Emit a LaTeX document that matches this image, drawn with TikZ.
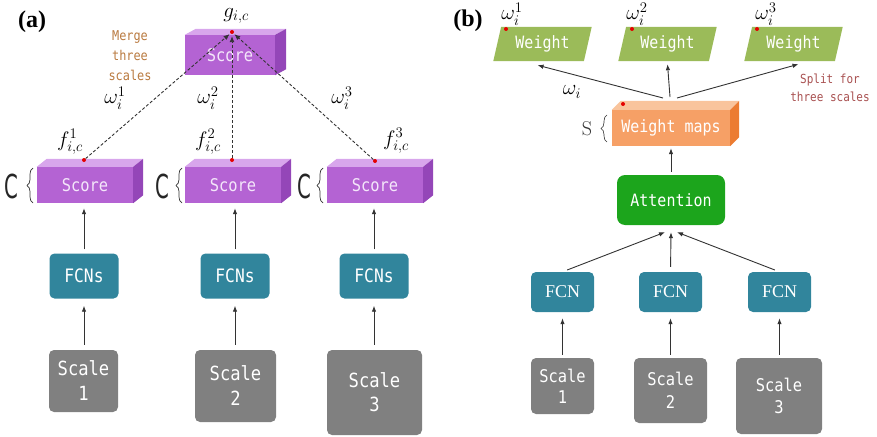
\RequirePackage{fix-cm}
\documentclass[tikz,border=0pt]{standalone}
\usepackage{fontspec}
\usetikzlibrary{arrows.meta,shapes.geometric,decorations.pathreplacing}
\newfontfamily\monof[FakeStretch=0.88]{DejaVu Sans Mono}
\newfontfamily\sansf{DejaVu Sans}
\newfontfamily\timesf{Liberation Serif}

\definecolor{purpF}{HTML}{B463D3}
\definecolor{purpTop}{HTML}{D8A6EC}
\definecolor{purpSide}{HTML}{9446B8}
\definecolor{purpTxt}{HTML}{F4E6FA}
\definecolor{tealF}{HTML}{31859C}
\definecolor{grayS}{HTML}{808080}
\definecolor{greenW}{HTML}{9BBB59}
\definecolor{orgF}{HTML}{F6A066}
\definecolor{orgTop}{HTML}{F9C49C}
\definecolor{orgSide}{HTML}{EC7C32}
\definecolor{attG}{HTML}{1CA51C}
\definecolor{brownM}{HTML}{B97A40}
\definecolor{splitR}{HTML}{A85050}
\definecolor{arrC}{HTML}{333333}

% top and side faces of a box whose front face is node #1, depth offset #2
\newcommand\boxfaces[4]{%
  \fill[#3] (#1.north west) -- ++(#2) -- ([shift={(#2)}]#1.north east) -- (#1.north east) -- cycle;
  \fill[#4] (#1.north east) -- ++(#2) -- ([shift={(#2)}]#1.south east) -- (#1.south east) -- cycle;}
% narrow channel letter
\newcommand\chanletter{\scalebox{0.6}[1]{\sansf\fontsize{33}{33}\selectfont C}}

\tikzset{
  mathlab/.style={inner sep=0pt, font=\fontsize{21}{23}\selectfont},
  panel/.style={inner sep=0pt, font=\timesf\bfseries\fontsize{24}{26}\selectfont},
  scorebox/.style={fill=purpF, text=purpTxt, inner sep=0pt, minimum width=96pt, minimum height=36pt,
    font=\monof\fontsize{17.5}{18}\selectfont},
  fcnsbox/.style={fill=tealF, text=white, rounded corners=5pt, inner sep=0pt, minimum width=69pt,
    minimum height=45pt, font=\monof\fontsize{18.5}{20}\selectfont},
  fcnbox/.style={fill=tealF, text=white, rounded corners=5pt, inner sep=0pt, minimum width=63pt,
    minimum height=40pt, font=\timesf\fontsize{18}{20}\selectfont},
  scalebox/.style={fill=grayS, text=white, rounded corners=5pt, inner sep=0pt, align=center},
  weightbox/.style={shape=trapezium, trapezium left angle=73, trapezium right angle=107,
    trapezium stretches=true, fill=greenW, text=white, inner sep=0pt, minimum width=99pt,
    minimum height=34pt, font=\monof\fontsize{17}{18}\selectfont},
  reddot/.style={circle, fill=red!90!black, inner sep=0pt, minimum size=4pt},
  arr/.style={draw=arrC, line width=0.9pt, -{Latex[length=6pt,width=4.5pt]}},
  dasharr/.style={draw=arrC, line width=0.9pt, dash pattern=on 3pt off 2pt,
    -{Latex[length=6pt,width=5pt]}},
  bracemark/.style={draw=black!80, line width=0.7pt, decorate, decoration={brace, amplitude=6pt}},
  cletter/.style={inner sep=0pt, text=black!85}
}

\begin{document}
\begin{tikzpicture}[x=1pt, y=-1pt]
\useasboundingbox (0,0) rectangle (877,436);

% ---------------- panel (a): merging three scales ----------------
\node[panel] (la) at (32,22) {(a)};

% merged score
\node[scorebox, minimum width=90pt, minimum height=40pt] (stop) at (230,55) {Score};
\boxfaces{stop}{11,-6}{purpTop}{purpSide}
\node[reddot] (dtop) at (232,32) {};
\node[mathlab] (g) at (236,16) {$g_{i,c}$};
\node[align=center, text=brownM, inner sep=0pt, font=\monof\fontsize{13.5}{20}\selectfont] (merge)
  at (130,56) {Merge\\three\\scales};

% per-scale scores
\node[scorebox] (sc1) at (85,185) {Score};
\node[scorebox] (sc2) at (233,185) {Score};
\node[scorebox] (sc3) at (375,185) {Score};
\boxfaces{sc1}{10,-8}{purpTop}{purpSide}
\boxfaces{sc2}{10,-8}{purpTop}{purpSide}
\boxfaces{sc3}{10,-8}{purpTop}{purpSide}
\node[reddot] (d1) at (84,160) {};
\node[reddot] (d2) at (232,160) {};
\node[reddot] (d3) at (375,161) {};

\node[mathlab] (f1) at (70,142) {$f_{i,c}^{1}$};
\node[mathlab] (f2) at (208,142) {$f_{i,c}^{2}$};
\node[mathlab] (f3) at (396,141) {$f_{i,c}^{3}$};
\node[mathlab] (w1) at (115,98) {$\omega_i^{1}$};
\node[mathlab] (w2) at (208,98) {$\omega_i^{2}$};
\node[mathlab] (w3) at (342,98) {$\omega_i^{3}$};

% channel labels
\node[cletter] (c1) at (11,186) {\chanletter};
\node[cletter] (c2) at (162,186) {\chanletter};
\node[cletter] (c3) at (304,186) {\chanletter};
\draw[bracemark] (33,203) -- (33,168);
\draw[bracemark] (182,203) -- (182,168);
\draw[bracemark] (323,203) -- (323,168);

\draw[dasharr, shorten >=1pt] (d1) -- (dtop);
\draw[dasharr, shorten >=2pt] (d2) -- (dtop);
\draw[dasharr, shorten >=1pt] (d3) -- (dtop);

% FCNs and input scales
\node[fcnsbox] (fa1) at (84,276) {FCNs};
\node[fcnsbox] (fa2) at (235,276) {FCNs};
\node[fcnsbox] (fa3) at (374,276) {FCNs};

\node[scalebox, minimum width=69pt, minimum height=62pt, font=\monof\fontsize{19.5}{25}\selectfont]
  (sa1) at (83.5,381) {Scale\\1};
\node[scalebox, minimum width=81pt, minimum height=72pt, font=\monof\fontsize{19.5}{25}\selectfont]
  (sa2) at (235.5,386) {Scale\\2};
\node[scalebox, minimum width=95pt, minimum height=85pt, font=\monof\fontsize{19.5}{24}\selectfont]
  (sa3) at (374.5,392.5) {Scale\\3};

\draw[arr, shorten <=4pt, shorten >=5pt] (fa1.north) -- (fa1.north |- sc1.south);
\draw[arr, shorten <=4pt, shorten >=5pt] (fa2.north) -- (fa2.north |- sc2.south);
\draw[arr, shorten <=4pt, shorten >=5pt] (fa3.north) -- (fa3.north |- sc3.south);
\draw[arr, shorten <=5pt, shorten >=7pt] (fa1.south |- sa1.north) -- (fa1.south);
\draw[arr, shorten <=5pt, shorten >=7pt] (fa2.south |- sa2.north) -- (fa2.south);
\draw[arr, shorten <=5pt, shorten >=7pt] (fa3.south |- sa3.north) -- (fa3.south);

% ---------------- panel (b): attention weights ----------------
\node[panel] (lb) at (468,21) {(b)};

\node[weightbox] (wt1) at (542.5,44) {Weight};
\node[weightbox] (wt2) at (667.5,44) {Weight};
\node[weightbox] (wt3) at (793.5,44) {Weight};
\node[reddot] (dw1) at (506,29) {};
\node[reddot] (dw2) at (632,29) {};
\node[reddot] (dw3) at (757,29) {};
\node[mathlab] (om1) at (512,14) {$\omega_i^{1}$};
\node[mathlab] (om2) at (637,14) {$\omega_i^{2}$};
\node[mathlab] (om3) at (766,14) {$\omega_i^{3}$};

% weight maps
\node[fill=orgF, text=white, inner sep=0pt, minimum width=118pt, minimum height=36pt,
  font=\monof\fontsize{17}{18}\selectfont] (wm) at (671,128) {Weight maps};
\boxfaces{wm}{9,-9}{orgTop}{orgSide}
\node[reddot] (dwm) at (623,104) {};
\node[inner sep=0pt, text=black!80, font=\fontsize{20}{22}\selectfont] (slab) at (587,129) {S};
\draw[bracemark, line width=0.6pt] (607,142) -- (607,115);

\coordinate (wml) at (663,98);
\coordinate (wmt) at (670,97);
\coordinate (wmr) at (677,98);
\draw[arr] (wml) -- ([shift={(-5,4)}]wt1.south);
\draw[arr] (wmt) -- ([shift={(0,3)}]wt2.south);
\draw[arr] (wmr) -- ([shift={(5,3)}]wt3.south);
\node[mathlab] (omi) at (572,92) {$\omega_i$};
\node[align=center, text=splitR, inner sep=0pt, font=\monof\fontsize{12.5}{18}\selectfont] (split)
  at (830,88) {Split for\\three scales};

% attention
\node[fill=attG, text=white, rounded corners=8pt, inner sep=0pt, minimum width=108pt,
  minimum height=50pt, font=\monof\fontsize{17}{18}\selectfont] (att) at (671,200) {Attention};
\draw[arr, shorten <=3pt, shorten >=2pt] (att.north) -- (att.north |- wm.south);

% FCNs and input scales
\node[fcnbox] (fb1) at (562.5,292) {FCN};
\node[fcnbox] (fb2) at (670.5,292) {FCN};
\node[fcnbox] (fb3) at (779.5,292) {FCN};
\draw[arr, shorten <=5pt] (fb1.north) -- ([shift={(-6,7)}]att.south);
\draw[arr, shorten <=5pt] (fb2.north) -- ([shift={(0,7)}]att.south);
\draw[arr, shorten <=5pt] (fb3.north) -- ([shift={(6,7)}]att.south);

\node[scalebox, minimum width=63pt, minimum height=56pt, font=\monof\fontsize{17.5}{21}\selectfont]
  (sb1) at (562.5,386) {Scale\\1};
\node[scalebox, minimum width=73pt, minimum height=65pt, font=\monof\fontsize{17.5}{23}\selectfont]
  (sb2) at (670.5,390.5) {Scale\\2};
\node[scalebox, minimum width=86pt, minimum height=76pt, font=\monof\fontsize{17.5}{22}\selectfont]
  (sb3) at (779,396) {Scale\\3};
\draw[arr, shorten <=3pt, shorten >=6pt] (fb1.south |- sb1.north) -- (fb1.south);
\draw[arr, shorten <=3pt, shorten >=6pt] (fb2.south |- sb2.north) -- (fb2.south);
\draw[arr, shorten <=3pt, shorten >=6pt] (fb3.south |- sb3.north) -- (fb3.south);
\end{tikzpicture}
\end{document}
